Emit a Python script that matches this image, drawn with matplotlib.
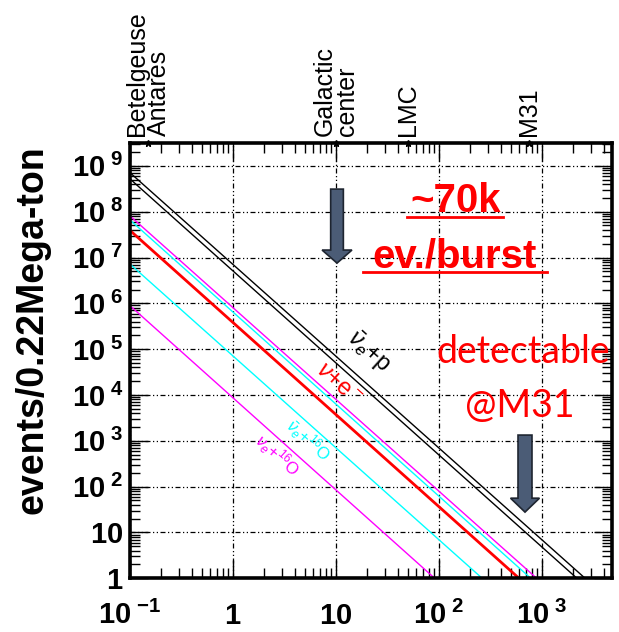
#supernova burst event rate vs distance
import numpy as np
import matplotlib.pyplot as plt
from matplotlib import ticker
from matplotlib.patches import FancyArrow

plt.rcParams['font.family'] = ['Liberation Sans', 'DejaVu Sans']
plt.rcParams['mathtext.fontset'] = 'custom'
plt.rcParams['mathtext.rm'] = 'Liberation Sans'
plt.rcParams['mathtext.it'] = 'Liberation Sans:italic'
plt.rcParams['mathtext.bf'] = 'Liberation Sans:bold'

# each channel: events at the left edge (0.1 kpc) and distance (kpc) where it falls to 1 event
start_dist = 0.1
start_events = [7.1e8, 5.2e8, 8.1e7, 6.6e7, 3.9e7, 7.2e6, 8.9e5]
end_dist = [2630, 2190, 890, 780, 600, 263, 91]
end_events = 1
line_colors = ['black', 'black', 'magenta', 'cyan', 'red', 'cyan', 'magenta']
line_widths = [1.0, 1.0, 1.0, 1.0, 2.0, 1.0, 1.0]

objects = ['Betelgeuse\nAntares', 'Galactic\ncenter', 'LMC', 'M31']
object_dist = [0.15, 10, 50, 750]

x_exps = [-1, 0, 1, 2, 3]
y_exps = [0, 1, 2, 3, 4, 5, 6, 7, 8, 9]


def pow_label(k, padded):
    if k == 0:
        base = r'\mathbf{1}'
    else:
        base = r'\mathbf{10}'
    if k >= 2 or k < 0:
        return '$' + base + r'^{\ \mathbf{' + str(k) + '}}$'
    if padded:
        return '$' + base + r'^{\ \mathbf{\ \ }}$'
    return '$' + base + '$'


fig = plt.figure(figsize=(6.19, 6.32), dpi=100)
ax = fig.add_axes([0.2100, 0.0850, 0.7787, 0.6888])

for n0, d1, c, lw in zip(start_events, end_dist, line_colors, line_widths):
    ax.plot([start_dist, d1], [n0, end_events], color=c, lw=lw, solid_capstyle='butt')

ax.set_xscale('log')
ax.set_yscale('log')
ax.set_xlim(0.1, 4800)
ax.set_ylim(1, 10 ** 9.5)

ax.xaxis.set_major_locator(ticker.FixedLocator([10.0 ** k for k in x_exps]))
ax.xaxis.set_major_formatter(ticker.FixedFormatter([pow_label(k, False) for k in x_exps]))
ax.yaxis.set_major_locator(ticker.FixedLocator([10.0 ** k for k in y_exps]))
ax.yaxis.set_major_formatter(ticker.FixedFormatter([pow_label(k, True) for k in y_exps]))
ax.xaxis.set_minor_locator(ticker.LogLocator(subs=np.arange(2, 10), numticks=20))
ax.yaxis.set_minor_locator(ticker.LogLocator(subs=np.arange(2, 10), numticks=20))
ax.xaxis.set_minor_formatter(ticker.NullFormatter())
ax.yaxis.set_minor_formatter(ticker.NullFormatter())

ax.tick_params(which='both', direction='in', top=True, right=True, width=1)
ax.tick_params(which='major', length=13, labelsize=21)
ax.tick_params(which='minor', length=7)
ax.tick_params(axis='x', which='major', pad=33)
ax.tick_params(axis='y', which='major', pad=5)
for lab in ax.get_xticklabels():
    lab.set_va('baseline')
for sp in ax.spines.values():
    sp.set_linewidth(2.6)

ax.grid(which='major', color='black', lw=0.9, ls=(0, (4, 2, 1, 2, 1, 2)))

# objects along the top
ax.plot(object_dist, [1] * len(object_dist), transform=ax.get_xaxis_transform(),
        ls='none', marker='*', ms=5, color='black', clip_on=False, zorder=5)
for name, d in zip(objects, object_dist):
    ax.text(d, 1.015, name, transform=ax.get_xaxis_transform(), rotation=90,
            ha='center', va='bottom', multialignment='left', fontsize=18, linespacing=0.9)

fig.text(0.052, 0.478, 'events/0.22Mega-ton', rotation=90, ha='center', va='center',
         fontsize=27, fontweight='bold')

# channel labels
ax.text(0.494, 0.52, r'$\bar{\nu}_e$+p', transform=ax.transAxes, rotation=-42,
        rotation_mode='anchor', ha='center', va='center', fontsize=17, color='black')
ax.text(0.432, 0.444, r'$\nu$+e$^-$', transform=ax.transAxes, rotation=-42,
        rotation_mode='anchor', ha='center', va='center', fontsize=17, color='red')
ax.text(0.369, 0.318, r'$\bar{\nu}_e$+$^{16}$O', transform=ax.transAxes, rotation=-42,
        rotation_mode='anchor', ha='center', va='center', fontsize=12, color='cyan')
ax.text(0.305, 0.283, r'$\nu_e$+$^{16}$O', transform=ax.transAxes, rotation=-42,
        rotation_mode='anchor', ha='center', va='center', fontsize=12, color='magenta')

# annotations
ax.text(0.675, 0.841, '~70k', transform=ax.transAxes, ha='center', va='baseline',
        fontsize=29, fontweight='bold', color='red')
ax.text(0.674, 0.715, 'ev./burst', transform=ax.transAxes, ha='center', va='baseline',
        fontsize=29, fontweight='bold', color='red')
ax.plot([0.575, 0.774], [0.830, 0.830], transform=ax.transAxes, color='red', lw=2)
ax.plot([0.483, 0.865], [0.704, 0.704], transform=ax.transAxes, color='red', lw=2)
ax.text(0.815, 0.4946, 'detectable', transform=ax.transAxes, ha='center', va='baseline',
        fontsize=27, color='red', family=['Lato', 'DejaVu Sans'])
ax.text(0.809, 0.3706, '@M31', transform=ax.transAxes, ha='center', va='baseline',
        fontsize=27, color='red', family=['Lato', 'DejaVu Sans'])

ax.add_patch(FancyArrow(0.4295, 0.894, 0, -0.170, width=0.0263, head_width=0.062,
                        head_length=0.030, length_includes_head=True, transform=ax.transAxes,
                        fc='#4b5c76', ec='#1e2530', lw=1.2, zorder=6))
ax.add_patch(FancyArrow(0.8195, 0.329, 0, -0.177, width=0.029, head_width=0.060,
                        head_length=0.032, length_includes_head=True, transform=ax.transAxes,
                        fc='#4b5c76', ec='#1e2530', lw=1.2, zorder=6))

plt.savefig('out.png', dpi=100)
plt.close()
